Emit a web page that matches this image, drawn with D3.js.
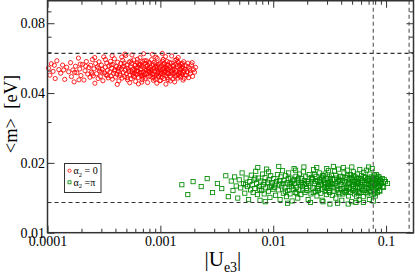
<!DOCTYPE html>
<html>
<head>
<meta charset="utf-8">
<script src="https://cdn.jsdelivr.net/npm/d3@7"></script>
<style>
body { margin: 0; background: #fff; }
text { font-family: "Liberation Serif", "Times New Roman", serif; }
</style>
</head>
<body>
<div id="chart"></div>
<script>
"use strict";

// Data: [|Ue3|, <m> in eV]

// alpha2 = 0 (red circles)
let redPoints = [
    [1.02e-4,.0512],[1.05e-4,.0478],[1.08e-4,.0535],[1.12e-4,.0496],[1.17e-4,.0462],[1.21e-4,.0551],[1.26e-4,.0505],[1.31e-4,.0487],[1.36e-4,.0528],[1.42e-4,.0458],[1.48e-4,.0517],[1.54e-4,.0494],
    [1.6e-4,.0541],[1.63e-4,.0471],[1.68e-4,.0503],[1.72e-4,.0447],[1.77e-4,.0522],[1.82e-4,.0489],[1.88e-4,.0566],[1.93e-4,.0508],[1.98e-4,.0476],[2.04e-4,.0531],[2.1e-4,.0455],[2.15e-4,.0499],[2.21e-4,.0547],[2.27e-4,.0483],[2.33e-4,.0515],
    [2.38e-4,.0468],[2.41e-4,.0527],[2.45e-4,.0492],[2.5e-4,.0558],[2.54e-4,.0474],[2.58e-4,.0509],[2.63e-4,.0441],[2.67e-4,.0536],[2.72e-4,.0485],[2.76e-4,.0519],[2.81e-4,.0462],[2.86e-4,.0545],[2.9e-4,.0497],[2.95e-4,.0471],[3.0e-4,.0528],[3.05e-4,.0506],[3.1e-4,.0452],[3.15e-4,.0573],[3.2e-4,.0488],[3.25e-4,.0517],[3.3e-4,.0479],[3.35e-4,.0539],[3.4e-4,.0501],[3.45e-4,.0465],[3.5e-4,.0524],
    [3.57e-4,.0493],[3.62e-4,.0548],[3.66e-4,.0473],[3.71e-4,.0512],[3.76e-4,.0459],[3.81e-4,.0531],[3.86e-4,.0487],[3.91e-4,.0562],[3.96e-4,.0504],[4.01e-4,.0469],[4.07e-4,.0521],[4.12e-4,.0482],[4.18e-4,.0543],[4.23e-4,.0497],[4.29e-4,.0451],[4.34e-4,.0516],[4.4e-4,.0476],[4.46e-4,.0537],[4.52e-4,.0508],[4.58e-4,.0464],[4.64e-4,.0553],[4.7e-4,.0491],[4.76e-4,.0523],[4.82e-4,.0471],[4.88e-4,.0501],[4.94e-4,.0581],[5.0e-4,.0484],[5.06e-4,.0529],[5.12e-4,.0456],[5.18e-4,.0511],[5.24e-4,.0495],[5.3e-4,.0544],[4.15e-4,.0436],[4.85e-4,.0589],[3.74e-4,.0579],
    [5.37e-4,.0478],[5.43e-4,.0519],[5.5e-4,.0461],[5.56e-4,.0537],[5.63e-4,.0494],[5.69e-4,.0505],[5.76e-4,.0472],[5.82e-4,.0556],[5.89e-4,.0488],[5.96e-4,.0526],[6.03e-4,.0449],[6.1e-4,.0513],[6.17e-4,.0481],[6.24e-4,.0541],[6.31e-4,.0499],[6.38e-4,.0467],[6.45e-4,.0532],[6.52e-4,.0486],[6.6e-4,.0568],[6.67e-4,.0509],[6.75e-4,.0475],[6.82e-4,.0522],[6.9e-4,.0457],[6.98e-4,.0546],[7.05e-4,.0492],[7.13e-4,.0515],[7.21e-4,.0479],[7.29e-4,.0538],[7.37e-4,.0463],[7.45e-4,.0502],[7.53e-4,.0551],[7.61e-4,.0484],[7.69e-4,.0527],[7.77e-4,.0469],[7.85e-4,.0511],[7.93e-4,.0496],[5.6e-4,.0584],[6.4e-4,.0438],[7.1e-4,.0591],[7.7e-4,.0444],[5.9e-4,.0502],[6.6e-4,.0491],[7.3e-4,.0507],[6.0e-4,.0529],[6.9e-4,.0478],
    [8.02e-4,.0534],[8.1e-4,.0473],[8.19e-4,.0518],[8.27e-4,.0489],[8.36e-4,.0557],[8.45e-4,.0501],[8.54e-4,.0465],[8.63e-4,.0529],[8.72e-4,.0483],[8.81e-4,.0543],[8.9e-4,.0496],[9.0e-4,.0459],[9.09e-4,.0521],[9.19e-4,.0477],[9.28e-4,.0508],[9.38e-4,.0564],[9.48e-4,.0487],[9.58e-4,.0532],[9.68e-4,.0471],[9.78e-4,.0514],[9.88e-4,.0452],[9.99e-4,.0539],[1.01e-3,.0493],[1.02e-3,.0524],[1.03e-3,.0468],[1.04e-3,.0549],[1.05e-3,.0505],[1.06e-3,.0481],[1.07e-3,.0517],[1.08e-3,.0462],[1.09e-3,.0536],[1.1e-3,.0498],[1.11e-3,.0574],[1.12e-3,.0476],[1.13e-3,.0512],[1.14e-3,.0489],[1.15e-3,.0547],[1.16e-3,.0503],[1.17e-3,.0457],[1.18e-3,.0526],[1.19e-3,.0485],[8.5e-4,.0587],[9.3e-4,.0441],[1.04e-3,.0593],[1.12e-3,.0437],[8.8e-4,.0511],[9.6e-4,.0499],[1.0e-3,.0481],[1.08e-3,.0509],[1.15e-3,.0529],
    [1.21e-3,.0515],[1.23e-3,.0472],[1.25e-3,.0538],[1.27e-3,.0494],[1.29e-3,.0461],[1.31e-3,.0527],[1.33e-3,.0486],[1.35e-3,.0553],[1.37e-3,.0502],[1.39e-3,.0477],[1.41e-3,.0519],[1.43e-3,.0464],[1.45e-3,.0541],[1.47e-3,.0491],[1.49e-3,.0508],[1.51e-3,.0469],[1.53e-3,.0533],[1.55e-3,.0483],[1.57e-3,.0521],[1.59e-3,.0455],[1.61e-3,.0546],[1.63e-3,.0497],[1.26e-3,.0578],[1.34e-3,.0447],[1.44e-3,.0569],[1.52e-3,.0504],[1.28e-3,.0506],[1.38e-3,.0531],[1.48e-3,.0474],[1.58e-3,.0512],
    [1.66e-3,.0479],[1.69e-3,.0524],[1.72e-3,.0493],[1.75e-3,.0538],[1.78e-3,.0466],[1.82e-3,.0511],[1.85e-3,.0487],[1.89e-3,.0529],[1.93e-3,.0472],[1.97e-3,.0505],[2.01e-3,.0492],[2.05e-3,.0516],
    [3.03e-4,.0493],[3.38e-4,.0476],[3.67e-4,.0529],[3.93e-4,.0498],[4.21e-4,.0509],[4.37e-4,.0484],[4.61e-4,.0518],[4.79e-4,.0539],[5.08e-4,.0466],[5.27e-4,.0503],[5.47e-4,.0549],[5.71e-4,.0482],[5.93e-4,.0471],[6.14e-4,.0496],[6.36e-4,.0515],[6.57e-4,.0528],
    [6.79e-4,.0489],[7.02e-4,.0468],[7.24e-4,.0552],[7.47e-4,.0521],[7.71e-4,.0497],[7.96e-4,.0543],[8.23e-4,.0506],[8.48e-4,.0482],[8.77e-4,.0468],[9.04e-4,.0535],[9.33e-4,.0519],[9.62e-4,.0474],[9.93e-4,.0503],[1.025e-3,.0487],[1.055e-3,.0532],[1.085e-3,.0491],
    [1.115e-3,.0519],[1.145e-3,.0466],[1.175e-3,.0507],[1.205e-3,.0542],[1.235e-3,.0498],[1.265e-3,.0484],[1.295e-3,.0521],[1.325e-3,.0509],[1.355e-3,.0471],[1.385e-3,.0493],[1.415e-3,.0547],[1.445e-3,.0481],[1.475e-3,.0526],[1.505e-3,.0489],[1.535e-3,.0512],[1.565e-3,.0537],
    [1.595e-3,.0491],[1.625e-3,.0463],[1.655e-3,.0506],[1.705e-3,.0477],[1.765e-3,.0518],[1.835e-3,.0499],[1.915e-3,.0541],[6.26e-4,.0559],[6.84e-4,.0446],[8.68e-4,.0454],[9.14e-4,.0571],[1.005e-3,.0453],[1.225e-3,.0451],[1.395e-3,.0558],[4.55e-4,.0572],[5.36e-4,.0443],
    [3.26e-4,.0558],[2.84e-4,.0511],[2.49e-4,.0484],[2.18e-4,.0522],[1.95e-4,.0533],[1.74e-4,.0491],[1.39e-4,.0503],[1.15e-4,.0527],[1.9e-4,.0456],[2.62e-4,.0569],[9.52e-4,.0492],[1.06e-3,.0559],[1.16e-3,.0488],[8.14e-4,.0496],[7.38e-4,.0487],[6.66e-4,.0533]
];

// alpha2 = pi (green squares)
let greenPoints = [
    [1.55e-3,.0161],[1.75e-3,.0146],[1.95e-3,.0166],[2.3e-3,.0158],[2.6e-3,.0171],[2.9e-3,.0149],[3.2e-3,.0163],[3.5e-3,.0155],[3.8e-3,.0176],[4.0e-3,.0143],
    [4.25e-3,.0167],[4.4e-3,.0152],[4.55e-3,.0174],[4.7e-3,.0159],[4.85e-3,.0141],[5.0e-3,.0169],[5.15e-3,.0156],[5.3e-3,.0181],[5.45e-3,.0163],[5.6e-3,.0148],[5.75e-3,.0172],[5.9e-3,.0158],[6.05e-3,.0139],[6.2e-3,.0166],[6.3e-3,.0153],
    [6.4e-3,.0177],[6.52e-3,.0161],[6.64e-3,.0149],[6.76e-3,.0169],[6.88e-3,.0155],[7.0e-3,.0184],[7.12e-3,.0163],[7.25e-3,.0146],[7.38e-3,.0172],[7.51e-3,.0158],[7.64e-3,.0138],[7.77e-3,.0167],[7.9e-3,.0152],[8.04e-3,.0179],[8.18e-3,.0161],[8.32e-3,.0147],[8.46e-3,.0173],[8.6e-3,.0156],[8.75e-3,.0188],[8.9e-3,.0165],[9.05e-3,.0151],[9.2e-3,.0169],[9.35e-3,.0142],[9.5e-3,.0176],[9.65e-3,.0159],[9.8e-3,.0164],[9.95e-3,.0154],[7.3e-3,.0191],[8.5e-3,.0136],[9.1e-3,.0183],
    [.0101,.0171],[.0103,.0157],[.0105,.0145],[.0107,.0166],[.0109,.0178],[.0111,.0153],[.0113,.0162],[.0115,.0139],[.0117,.0174],[.0119,.0159],[.0121,.0185],[.0123,.0148],[.0125,.0168],[.0127,.0156],[.0129,.0176],[.0131,.0143],[.0133,.0164],[.0135,.0152],[.0137,.0181],[.0139,.0161],[.0141,.0147],[.0143,.0172],[.0145,.0158],[.0147,.0137],[.0149,.0167],[.0151,.0154],[.0153,.0189],[.0155,.0163],[.0157,.0149],[.0159,.0175],[.0161,.0157],[.0163,.0169],[.0165,.0141],[.0167,.0165],[.0169,.0153],[.0171,.0179],[.0173,.0161],[.0112,.0193],[.0134,.0134],[.0158,.0186],
    [.0176,.0146],[.0179,.0171],[.0182,.0158],[.0185,.0183],[.0188,.0162],[.0191,.0149],[.0194,.0174],[.0197,.0155],[.0200,.0166],[.0204,.0139],[.0208,.0178],[.0212,.0159],[.0216,.0147],[.0220,.0169],[.0224,.0156],[.0228,.0187],[.0232,.0163],[.0236,.0151],[.0240,.0175],[.0244,.0144],[.0248,.0167],[.0252,.0158],[.0256,.0181],[.0260,.0161],[.0264,.0148],[.0268,.0172],[.0272,.0154],[.0276,.0136],[.0280,.0168],[.0284,.0157],[.0288,.0179],[.0292,.0163],[.0296,.0146],[.0300,.0171],[.0304,.0155],[.0308,.0185],[.0312,.0162],[.0316,.0149],[.0320,.0166],[.0187,.0192],[.0214,.0135],[.0243,.0191],[.0271,.0138],[.0298,.0189],[.0318,.0133],[.0195,.0163],[.0223,.0171],[.0251,.0152],[.0279,.0176],[.0306,.0159],[.0183,.0153],[.0233,.0178],[.0261,.0166],[.0289,.0151],[.0313,.0174],
    [.0324,.0158],[.0329,.0177],[.0334,.0145],[.0339,.0169],[.0344,.0156],[.0349,.0184],[.0354,.0163],[.0359,.0141],[.0364,.0172],[.0369,.0153],[.0374,.0166],[.0379,.0188],[.0384,.0159],[.0389,.0147],[.0394,.0175],[.0399,.0161],[.0405,.0138],[.0411,.0168],[.0417,.0155],[.0423,.0181],[.0429,.0164],[.0435,.0149],[.0441,.0173],[.0447,.0157],[.0453,.0186],[.0459,.0162],[.0465,.0144],[.0471,.0171],[.0477,.0154],[.0483,.0178],[.0489,.0165],[.0495,.0136],[.0501,.0169],[.0507,.0152],[.0513,.0183],[.0519,.0161],[.0525,.0147],[.0531,.0174],[.0537,.0158],[.0543,.0167],[.0549,.0143],[.0555,.0179],[.0561,.0163],[.0567,.0151],[.0573,.0172],[.0579,.0157],[.0585,.0187],[.0341,.0193],[.0372,.0134],[.0418,.0191],[.0462,.0133],[.0497,.0192],[.0541,.0135],[.0578,.0139],[.0336,.0162],[.0381,.0170],[.0426,.0151],[.0472,.0163],[.0518,.0176],[.0563,.0166],
    [.0592,.0161],[.0599,.0149],[.0606,.0176],[.0613,.0158],[.0620,.0168],[.0627,.0143],[.0634,.0182],[.0641,.0164],[.0648,.0152],[.0655,.0173],[.0662,.0156],[.0669,.0186],[.0676,.0162],[.0683,.0147],[.0690,.0171],[.0697,.0155],[.0704,.0167],[.0711,.0139],[.0718,.0179],[.0725,.0160],[.0732,.0150],[.0739,.0174],[.0746,.0157],[.0753,.0189],[.0760,.0165],[.0767,.0146],[.0774,.0170],[.0781,.0153],[.0788,.0177],[.0795,.0161],[.0802,.0144],[.0809,.0168],[.0816,.0156],[.0823,.0172],[.0830,.0163],[.0838,.0149],[.0846,.0175],[.0854,.0158],[.0862,.0166],[.0870,.0152],[.0878,.0169],[.0886,.0160],[.0630,.0135],[.0700,.0192],[.0770,.0137],
    [.0905,.0163],[.0925,.0171],[.0950,.0157],[.0985,.0166],[.1030,.0163],
    [5.7e-3,.0161],[6.9e-3,.0172],[7.6e-3,.0154],[8.3e-3,.0165],[9.3e-3,.0157],[.0104,.0162],[.0114,.0168],[.0122,.0163],[.0128,.0151],[.0136,.0171],[.0144,.0163],[.0152,.0169],[.0162,.0148],[.0168,.0172],[.0178,.0164],[.0189,.0168],
    [.0199,.0152],[.0206,.0163],[.0218,.0173],[.0226,.0149],[.0238,.0166],[.0247,.0155],[.0258,.0169],[.0266,.0161],[.0274,.0176],[.0286,.0165],[.0294,.0156],[.0302,.0164],[.0311,.0152],[.0322,.0171],[.0331,.0163],[.0346,.0151],
    [.0357,.0177],[.0367,.0159],[.0377,.0149],[.0387,.0168],[.0397,.0155],[.0408,.0174],[.0414,.0147],[.0432,.0166],[.0444,.0152],[.0456,.0176],[.0468,.0157],[.0481,.0149],[.0492,.0173],[.0504,.0161],[.0516,.0155],[.0528,.0166],
    [.0534,.0151],[.0552,.0171],[.0558,.0156],[.0571,.0164],[.0582,.0148],[.0596,.0171],[.0609,.0165],[.0623,.0153],[.0638,.0174],[.0652,.0161],[.0665,.0149],[.0679,.0169],[.0694,.0163],[.0707,.0151],[.0721,.0168],[.0736,.0157],
    [.0749,.0164],[.0763,.0172],[.0778,.0159],[.0792,.0148],[.0806,.0162],[.0819,.0178],[.0834,.0157],[.0849,.0165],[.0866,.0174],[.0882,.0151],[.0895,.0167],[.0935,.0158],[.0965,.0169]
];

let xTicks = [0.0001, 0.001, 0.01, 0.1];
let xTickLabels = ["0.0001", "0.001", "0.01", "0.1"];
let yTicks = [0.01, 0.02, 0.04, 0.08];
let yTickLabels = ["0.01", "0.02", "0.04", "0.08"];
let yMinorTicks = [0.03, 0.05, 0.06, 0.07, 0.09];

// reference lines (dashed)
let hLines = [0.0593, 0.0135];
let vLines = [0.077, 0.16];

let svgWidth = 415;
let svgHeight = 275;

let svg = d3.select("#chart")
    .append("svg")
    .attr("width", svgWidth)
    .attr("height", svgHeight);

let plotLeft = 47.5, plotRight = 413.5, plotTop = 0.75, plotBottom = 232.7;

let xScale = d3.scaleLog()
    .domain([1e-4, 0.175])
    .range([plotLeft, plotRight]);

let yScale = d3.scaleLog()
    .domain([0.01, 0.1])
    .range([plotBottom, plotTop]);

let xMinorTicks = xScale.ticks().filter(v => !xTicks.some(t => Math.abs(v - t) / t < 1e-6));

function styleAxis(g) {
    g.select(".domain").remove();
    g.selectAll("line").attr("stroke", "#333").attr("stroke-width", 1);
    g.selectAll("text")
        .attr("font-family", "Liberation Serif, Times New Roman, serif")
        .attr("font-size", 14)
        .attr("fill", "#000");
}

// Major ticks with labels (bottom / left), mirrored on top / right
svg.append("g")
    .attr("transform", `translate(0, ${plotBottom})`)
    .call(d3.axisBottom(xScale).tickValues(xTicks)
        .tickFormat((d, i) => xTickLabels[i]).tickSize(-7).tickPadding(3.4))
    .call(styleAxis);

svg.append("g")
    .attr("transform", `translate(0, ${plotTop})`)
    .call(d3.axisTop(xScale).tickValues(xTicks).tickFormat("").tickSize(-7))
    .call(styleAxis);

svg.append("g")
    .attr("transform", `translate(${plotLeft}, 0)`)
    .call(d3.axisLeft(yScale).tickValues(yTicks)
        .tickFormat((d, i) => yTickLabels[i]).tickSize(-7).tickPadding(2.5))
    .call(styleAxis);

svg.append("g")
    .attr("transform", `translate(${plotRight}, 0)`)
    .call(d3.axisRight(yScale).tickValues(yTicks).tickFormat("").tickSize(-7))
    .call(styleAxis);

// Minor ticks
svg.append("g")
    .attr("transform", `translate(0, ${plotBottom})`)
    .call(d3.axisBottom(xScale).tickValues(xMinorTicks).tickFormat("").tickSize(-4))
    .call(styleAxis);

svg.append("g")
    .attr("transform", `translate(0, ${plotTop})`)
    .call(d3.axisTop(xScale).tickValues(xMinorTicks).tickFormat("").tickSize(-4))
    .call(styleAxis);

svg.append("g")
    .attr("transform", `translate(${plotLeft}, 0)`)
    .call(d3.axisLeft(yScale).tickValues(yMinorTicks).tickFormat("").tickSize(-4))
    .call(styleAxis);

svg.append("g")
    .attr("transform", `translate(${plotRight}, 0)`)
    .call(d3.axisRight(yScale).tickValues(yMinorTicks).tickFormat("").tickSize(-4))
    .call(styleAxis);

// Red circles
svg.append("g")
    .selectAll("circle")
    .data(redPoints)
    .join("circle")
    .attr("cx", d => xScale(d[0]))
    .attr("cy", d => yScale(d[1]))
    .attr("r", 2.1)
    .attr("fill", "none")
    .attr("stroke", "#ff0000")
    .attr("stroke-width", 0.85);

// Green squares
svg.append("g")
    .selectAll("rect")
    .data(greenPoints)
    .join("rect")
    .attr("x", d => xScale(d[0]) - 2.1)
    .attr("y", d => yScale(d[1]) - 2.1)
    .attr("width", 4.2)
    .attr("height", 4.2)
    .attr("fill", "none")
    .attr("stroke", "#008b00")
    .attr("stroke-width", 0.85);

// Dashed reference lines
svg.append("g")
    .selectAll("line")
    .data(hLines)
    .join("line")
    .attr("x1", plotLeft)
    .attr("x2", plotRight)
    .attr("y1", d => yScale(d))
    .attr("y2", d => yScale(d))
    .attr("stroke", "#333")
    .attr("stroke-width", 1.1)
    .attr("stroke-dasharray", "4,3");

svg.append("g")
    .selectAll("line")
    .data(vLines)
    .join("line")
    .attr("x1", d => xScale(d))
    .attr("x2", d => xScale(d))
    .attr("y1", plotTop)
    .attr("y2", plotBottom)
    .attr("stroke", "#555")
    .attr("stroke-width", 1.1)
    .attr("stroke-dasharray", "4,3");

// Frame
svg.append("rect")
    .attr("x", plotLeft)
    .attr("y", plotTop)
    .attr("width", plotRight - plotLeft)
    .attr("height", plotBottom - plotTop)
    .attr("fill", "none")
    .attr("stroke", "#333")
    .attr("stroke-width", 1.5);

// Axis titles
let xTitle = svg.append("text")
    .attr("x", 204.5)
    .attr("y", 265.5)
    .attr("font-size", 21);
xTitle.append("tspan").text("|U");
xTitle.append("tspan").attr("font-size", 14).attr("dy", 6).text("e3");
xTitle.append("tspan").attr("dy", -6).text("|");

svg.append("text")
    .attr("transform", "translate(16.5, 114) rotate(-90)")
    .attr("text-anchor", "middle")
    .attr("font-size", 18.5)
    .text("<m>\u00a0\u00a0[eV]");

// Legend
let legend = svg.append("g");

legend.append("rect")
    .attr("x", 64.5)
    .attr("y", 163.5)
    .attr("width", 36.5)
    .attr("height", 29)
    .attr("fill", "#fff")
    .attr("stroke", "#333")
    .attr("stroke-width", 1);

legend.append("circle")
    .attr("cx", 69.5)
    .attr("cy", 170.7)
    .attr("r", 1.6)
    .attr("fill", "none")
    .attr("stroke", "#ff0000")
    .attr("stroke-width", 0.8);

legend.append("rect")
    .attr("x", 68)
    .attr("y", 180.8)
    .attr("width", 3)
    .attr("height", 3)
    .attr("fill", "none")
    .attr("stroke", "#008b00")
    .attr("stroke-width", 0.8);

let legendEntries = [" = 0", " =\u03c0"];
legendEntries.forEach((label, i) => {
    let t = legend.append("text")
        .attr("x", 73.5)
        .attr("y", 174.3 + i * 11.6)
        .attr("font-size", 10);
    t.append("tspan").text("\u03b1");
    t.append("tspan").attr("font-size", 6.5).attr("dy", 2.5).text("2");
    t.append("tspan").attr("dy", -2.5).text(label);
});
</script>
</body>
</html>
